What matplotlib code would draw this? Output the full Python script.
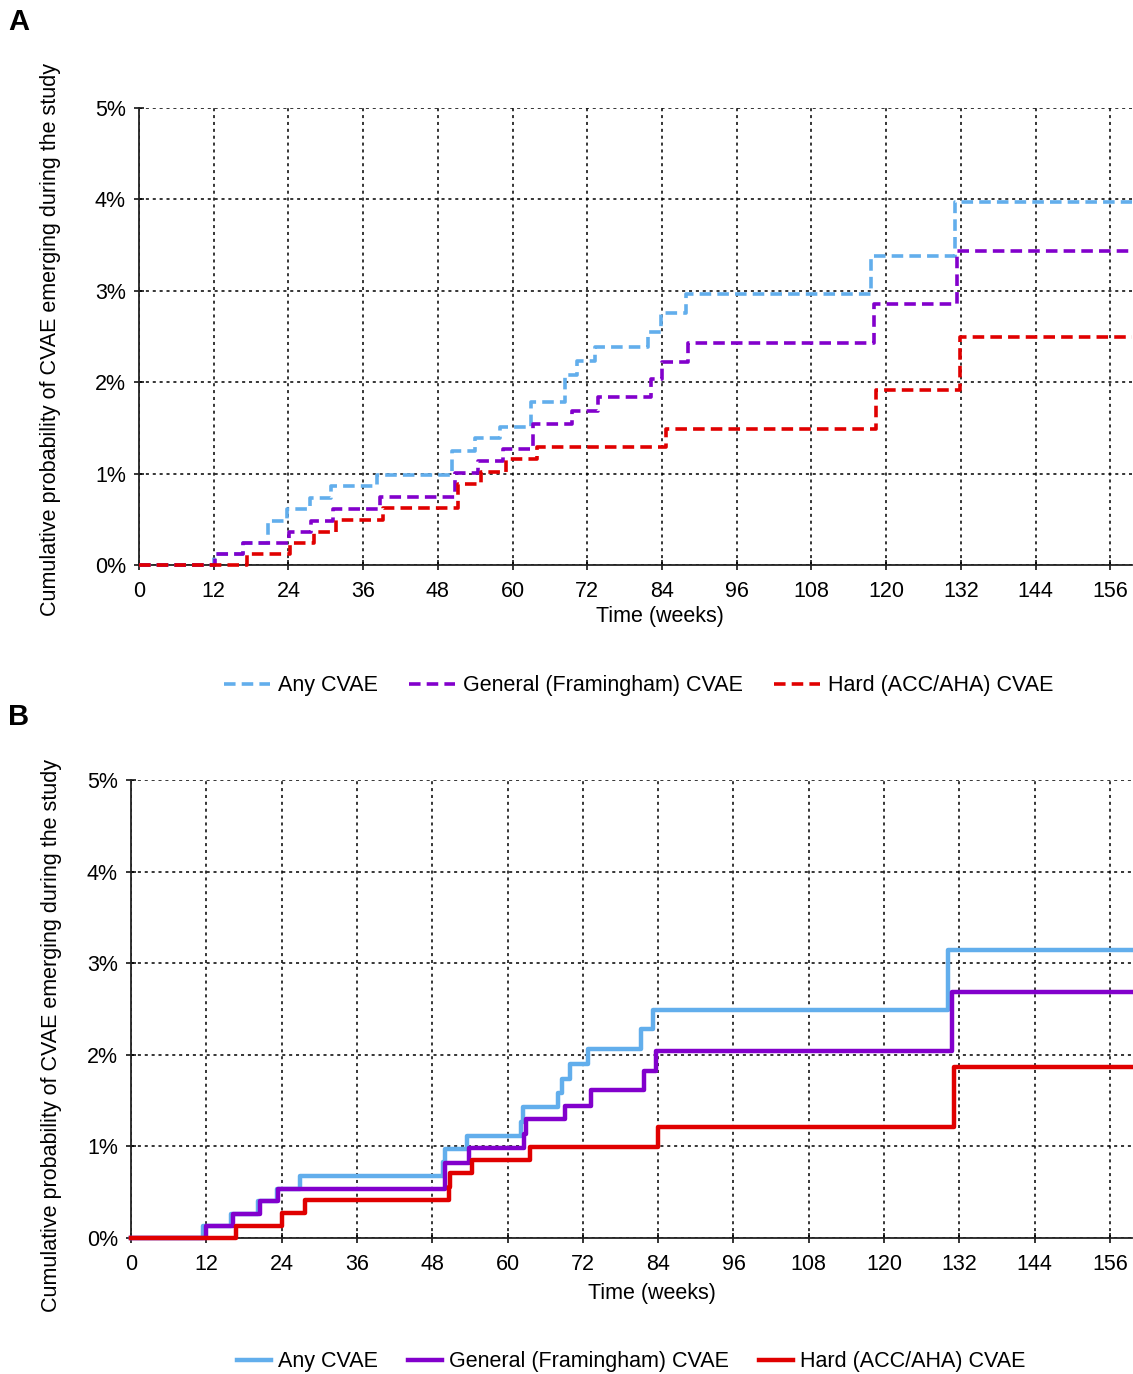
import matplotlib
matplotlib.use("Agg")
import matplotlib.pyplot as plt
from matplotlib.lines import Line2D

plt.rcParams['font.family'] = ['Liberation Sans', 'DejaVu Sans']

# ---- data (cumulative probability in %, step changes at given weeks) ----
series_names = ["Any CVAE", "General (Framingham) CVAE", "Hard (ACC/AHA) CVAE"]
colors = ["#62AEEC", "#8200CC", "#E00000"]

a_any_t = [0, 12.0, 16.7, 20.7, 23.8, 27.4, 30.8, 38.2, 50.3, 54.0, 58.0, 62.9, 68.5,
           70.4, 73.2, 81.8, 83.8, 87.8, 117.6, 131.0]
a_any_v = [0, 0.12, 0.245, 0.485, 0.61, 0.73, 0.865, 0.99, 1.25, 1.39, 1.515, 1.78, 2.075,
           2.235, 2.38, 2.55, 2.755, 2.965, 3.385, 3.975]
a_gen_t = [0, 12.2, 16.7, 24.1, 27.7, 31.2, 38.7, 50.7, 54.4, 58.4, 63.3, 69.6, 73.7,
           82.3, 84.0, 88.2, 118.0, 131.4]
a_gen_v = [0, 0.12, 0.245, 0.365, 0.485, 0.612, 0.74, 1.005, 1.138, 1.266, 1.543, 1.685, 1.835,
           2.03, 2.225, 2.425, 2.853, 3.433]
a_hard_t = [0, 17.4, 24.3, 28.1, 31.6, 39.2, 51.2, 54.9, 58.9, 63.9, 84.6, 118.4, 131.8]
a_hard_v = [0, 0.12, 0.245, 0.365, 0.49, 0.62, 0.888, 1.02, 1.156, 1.288, 1.49, 1.915, 2.495]

b_any_t = [0, 11.4, 16.0, 20.2, 23.2, 27.0, 49.7, 50.0, 53.6, 62.1, 62.5, 68.0, 68.7,
           69.9, 72.8, 81.3, 83.2, 130.2]
b_any_v = [0, 0.134, 0.262, 0.40, 0.54, 0.677, 0.833, 0.97, 1.117, 1.27, 1.425, 1.58, 1.735,
           1.895, 2.06, 2.28, 2.485, 3.145]
b_gen_t = [0, 11.9, 16.2, 20.6, 23.5, 50.1, 53.9, 62.6, 62.9, 69.1, 73.3, 81.7, 83.6, 130.8]
b_gen_v = [0, 0.134, 0.262, 0.40, 0.54, 0.82, 0.98, 1.14, 1.295, 1.445, 1.616, 1.826, 2.04, 2.69]
b_hard_t = [0, 16.8, 24.0, 27.8, 50.7, 50.9, 54.4, 63.5, 84.0, 131.2]
b_hard_v = [0, 0.134, 0.27, 0.41, 0.56, 0.706, 0.85, 0.997, 1.215, 1.87]

follow_up_end = 159.5
x_ticks = list(range(0, 157, 12))
y_ticks = [0, 1, 2, 3, 4, 5]

panel_a = [(a_any_t, a_any_v), (a_gen_t, a_gen_v), (a_hard_t, a_hard_v)]
panel_b = [(b_any_t, b_any_v), (b_gen_t, b_gen_v), (b_hard_t, b_hard_v)]

W, H = 1133, 1374
fig = plt.figure(figsize=(W / 100, H / 100), dpi=100)
FS = 15.5
DASH = (0, (3.2, 1.7))


def setup_axes(ax):
    ax.set_xlim(0, follow_up_end)
    ax.set_ylim(0, 5)
    ax.set_xticks(x_ticks)
    ax.set_yticks(y_ticks)
    ax.set_yticklabels([f"{v}%" for v in y_ticks])
    ax.tick_params(axis='both', direction='inout', length=7, width=1.1, labelsize=FS, colors='black')
    ax.tick_params(axis='x', pad=8)
    ax.tick_params(axis='y', pad=6)
    ax.grid(True, color='black', linestyle=(0, (2, 2.5)), linewidth=1.1)
    ax.set_axisbelow(True)
    for s in ['top', 'right']:
        ax.spines[s].set_visible(False)
    for s in ['left', 'bottom']:
        ax.spines[s].set_linewidth(1.3)
        ax.spines[s].set_color('#222222')


def draw(ax, data, dashed):
    for (t, v), c in zip(data, colors):
        ls = DASH if dashed else '-'
        lw = 2.6 if dashed else 3.2
        ax.step(t + [follow_up_end], v + [v[-1]], where='post', color=c, linewidth=lw,
                linestyle=ls, clip_on=False, zorder=3)


# panel A
axA = fig.add_axes([139 / W, 1 - 565 / H, 993 / W, 457 / H])
setup_axes(axA)
draw(axA, panel_a, True)

# panel B
axB = fig.add_axes([131 / W, 1 - 1238 / H, 1001 / W, 458 / H])
setup_axes(axB)
draw(axB, panel_b, False)

ylab = "Cumulative probability of CVAE emerging during the study"
fig.text(51 / W, 1 - 340 / H, ylab, rotation=90, ha='center', va='center', fontsize=FS)
fig.text(52 / W, 1 - 1035 / H, ylab, rotation=90, ha='center', va='center', fontsize=FS)
fig.text(660 / W, 1 - 617 / H, "Time (weeks)", ha='center', va='center', fontsize=FS)
fig.text(652 / W, 1 - 1293 / H, "Time (weeks)", ha='center', va='center', fontsize=FS)

fig.text(8 / W, 1 - 22 / H, "A", fontsize=21, fontweight='bold', ha='left', va='center')
fig.text(8 / W, 1 - 717 / H, "B", fontsize=21, fontweight='bold', ha='left', va='center')

h_a = [Line2D([], [], color=c, lw=2.6, linestyle=DASH) for c in colors]
h_b = [Line2D([], [], color=c, lw=3.2) for c in colors]
fig.legend(h_a, series_names, loc='center', bbox_to_anchor=(639 / W, 1 - 686 / H), ncol=3,
           frameon=False, fontsize=FS, handlelength=2.1, handletextpad=0.4, columnspacing=1.45)
fig.legend(h_b, series_names, loc='center', bbox_to_anchor=(631 / W, 1 - 1362 / H), ncol=3,
           frameon=False, fontsize=FS, handlelength=1.6, handletextpad=0.3, columnspacing=1.4)

fig.savefig("out.png", dpi=100, facecolor='white')
